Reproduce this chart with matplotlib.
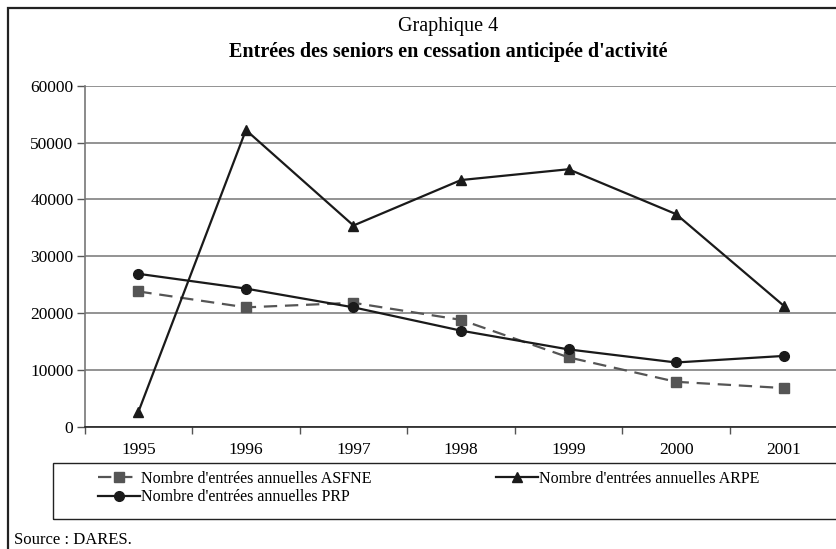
import matplotlib
matplotlib.use("Agg")
import matplotlib.pyplot as plt
from matplotlib.patches import Rectangle

plt.rcParams['font.family'] = ['Liberation Serif', 'DejaVu Serif']

# donnees
years = ['1995', '1996', '1997', '1998', '1999', '2000', '2001']
asfne = [23800, 21000, 21800, 18800, 12200, 7900, 6800]
arpe = [2600, 52200, 35400, 43400, 45300, 37400, 21300]
prp = [26900, 24300, 21000, 16900, 13600, 11300, 12450]

labels = ["Nombre d'entrées annuelles ASFNE",
          "Nombre d'entrées annuelles ARPE",
          "Nombre d'entrées annuelles PRP"]

W, H = 836, 549
fig = plt.figure(figsize=(W / 100, H / 100), dpi=100)

# cadre exterieur (coupe a droite et en bas)
fig.patches.append(Rectangle((8 / W, -0.05), 1.2, 1 - 8 / H + 0.05,
                             transform=fig.transFigure, fill=False,
                             edgecolor='#222222', linewidth=1.6))

ax = fig.add_axes([84.6 / W, 1 - 426.7 / H, (837.4 - 84.6) / W, (426.7 - 85.7) / H])

x = list(range(len(years)))
ax.plot(x, asfne, color='#555555', linestyle=(0, (6, 3.5)), linewidth=1.6,
        marker='s', markersize=6.5, label=labels[0])
ax.plot(x, arpe, color='#1a1a1a', linewidth=1.6, marker='^', markersize=7,
        label=labels[1])
ax.plot(x, prp, color='#1a1a1a', linewidth=1.6, marker='o', markersize=7,
        label=labels[2])

ax.set_xlim(-0.5, len(years) - 0.5)
ax.set_ylim(0, 60000)
ax.set_yticks(range(0, 60001, 10000))
ax.yaxis.grid(True, color='#808080', linewidth=1.2)
ax.set_axisbelow(True)

# ticks aux limites des categories, libelles au centre
ax.set_xticks([i + 0.5 for i in x[:-1]] + [-0.5])
ax.set_xticklabels([])
ax.set_xticks(x, minor=True)
ax.set_xticklabels(years, minor=True)
ax.tick_params(axis='x', which='major', length=5, width=1, color='#555555', direction='out')
ax.tick_params(axis='x', which='minor', length=0, pad=11, labelsize=12.5)
ax.tick_params(axis='y', length=6, width=1, color='#555555', labelsize=12.5, pad=2)

for s in ['top', 'right']:
    ax.spines[s].set_visible(False)
ax.spines['left'].set_color('#777777')
ax.spines['bottom'].set_color('#222222')
ax.spines['left'].set_linewidth(1.2)
ax.spines['bottom'].set_linewidth(1.2)

fig.text(0.5 + 30 / W, 1 - 26 / H, "Graphique 4", ha='center', va='center', fontsize=14.5)
fig.text(0.5 + 30 / W, 1 - 52 / H, "Entrées des seniors en cessation anticipée d'activité",
         ha='center', va='center', fontsize=14.5, fontweight='bold')

# legende
fig.patches.append(Rectangle((52.7 / W, 1 - 519 / H), 1.0, (519 - 463.3) / H,
                             transform=fig.transFigure, fill=False,
                             edgecolor='#222222', linewidth=1.0))
h, l = ax.get_legend_handles_labels()
leg = fig.legend([h[0], h[2], h[1]], [l[0], l[2], l[1]], ncol=2,
                 loc='upper left', bbox_to_anchor=(98 / W, 1 - 471 / H),
                 frameon=False, fontsize=11.5, handlelength=2.6,
                 handletextpad=0.1, columnspacing=7.8, labelspacing=0.15,
                 borderpad=0, borderaxespad=0)

fig.text(14 / W, 1 - 540 / H, "Source : DARES.", ha='left', va='center', fontsize=12)

fig.savefig("out.png", dpi=100)
